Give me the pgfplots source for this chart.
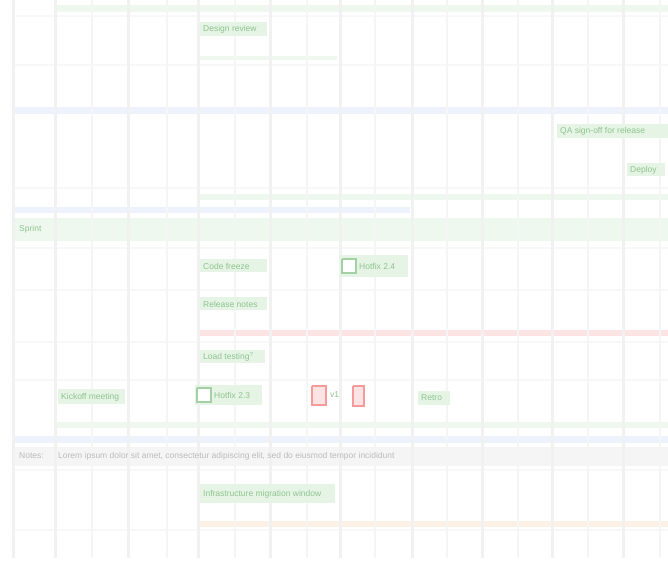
\documentclass[border=0pt]{standalone}
\usepackage{pgfplots}
\pgfplotsset{compat=1.18}
\usepackage{fontspec}
\setmainfont{Liberation Sans}
\definecolor{gridc}{HTML}{F1F1F1}
\definecolor{gridm}{HTML}{F5F5F5}
\definecolor{rowc}{HTML}{F8F8F8}
\definecolor{blueb}{HTML}{EEF2FD}
\definecolor{greenb}{HTML}{EFF8EF}
\definecolor{boxg}{HTML}{E6F4E6}
\definecolor{txtg}{HTML}{8EC48E}
\definecolor{redl}{HTML}{FCE4E4}
\definecolor{redi}{HTML}{F79A9A}
\definecolor{orangel}{HTML}{FDF1E5}
\definecolor{grayb}{HTML}{F5F5F5}
\definecolor{txtgray}{HTML}{BBBBBB}
\tikzset{lbl/.style={font=\fontsize{8.5}{9.5}\selectfont, inner sep=1pt, anchor=west}}
\newcommand{\rect}[5]{\addplot[fill=#5,draw=none,forget plot] coordinates {(#1,#2) (#3,#2) (#3,#4) (#1,#4)};}
\begin{document}
\begin{tikzpicture}
\begin{axis}[
  scale only axis, width=668pt, height=568pt,
  xmin=0, xmax=668, ymin=0, ymax=568, y dir=reverse,
  axis lines=none, ticks=none, clip=true,
]
% background
\rect{0}{0}{668}{568}{white}
% row separators
\pgfplotsinvokeforeach{16,65,188,248,290,342,380,470,530}{
  \addplot[rowc, line width=1.5pt, forget plot] coordinates {(13,#1) (668,#1)};
}
% bands
\rect{13}{107}{668}{114}{blueb}
\rect{13}{207}{410}{213}{blueb}
\rect{13}{436}{668}{443}{blueb}
\rect{55}{5}{668}{12}{greenb}
\rect{200}{56}{337}{60}{greenb}
\rect{200}{194}{668}{200}{greenb}
\rect{13}{218}{668}{241}{greenb}
\rect{55}{422}{668}{428}{greenb}
\rect{200}{330}{668}{336}{redl}
\rect{200}{521}{668}{527}{orangel}
\rect{13}{447}{668}{466}{grayb}
% vertical grid lines
\pgfplotsinvokeforeach{13,55,128,198,270,340,412,482,552,623}{
  \addplot[gridc, line width=3pt, forget plot] coordinates {(#1,0) (#1,558)};
}
\pgfplotsinvokeforeach{92,167,235,307,375,447,518,588,660}{
  \addplot[gridm, line width=2.5pt, forget plot] coordinates {(#1,0) (#1,558)};
}
% boxes
\rect{200}{22}{267}{36}{boxg}
\rect{557}{124}{668}{138}{boxg}
\rect{627}{163}{665}{176}{boxg}
\rect{200}{259}{267}{272}{boxg}
\rect{340}{255}{408}{277}{boxg}
\rect{200}{297}{267}{310}{boxg}
\rect{200}{350}{265}{363}{boxg}
\rect{58}{389}{125}{404}{boxg}
\rect{195}{385}{262}{405}{boxg}
\rect{418}{391}{450}{405}{boxg}
\rect{200}{484}{335}{503}{boxg}
% checkboxes
\addplot[draw=txtg!80, line width=1.2pt, fill=white, forget plot] coordinates {(342,259) (356,259) (356,273) (342,273) (342,259)};
\addplot[draw=txtg!80, line width=1.2pt, fill=white, forget plot] coordinates {(197,388) (211,388) (211,402) (197,402) (197,388)};
% red icons
\addplot[draw=redi, line width=1.5pt, fill=redl, forget plot] coordinates {(312,386) (326,386) (326,405) (312,405) (312,386)};
\addplot[draw=redi, line width=1.5pt, fill=redl, forget plot] coordinates {(353,386) (364,386) (364,406) (353,406) (353,386)};
% texts
\node[lbl, txtg] at (axis cs:202,29) {Design review};
\node[lbl, txtg] at (axis cs:559,131) {QA sign-off for release};
\node[lbl, txtg] at (axis cs:629,170) {Deploy};
\node[lbl, txtg] at (axis cs:18,229) {Sprint};
\node[lbl, txtg] at (axis cs:202,266) {Code freeze};
\node[lbl, txtg] at (axis cs:358,266) {Hotfix 2.4};
\node[lbl, txtg] at (axis cs:202,304) {Release notes};
\node[lbl, txtg] at (axis cs:202,357) {Load testing\textsuperscript{?}};
\node[lbl, txtg] at (axis cs:60,397) {Kickoff meeting};
\node[lbl, txtg] at (axis cs:213,395) {Hotfix 2.3};
\node[lbl, txtg] at (axis cs:329,395) {v1};
\node[lbl, txtg] at (axis cs:420,398) {Retro};
\node[lbl, txtg] at (axis cs:202,494) {Infrastructure migration window};
\node[lbl, txtgray] at (axis cs:18,456) {Notes:};
\node[lbl, txtgray] at (axis cs:57,456) {Lorem ipsum dolor sit amet, consectetur adipiscing elit, sed do eiusmod tempor incididunt};
\end{axis}
\end{tikzpicture}
\end{document}
